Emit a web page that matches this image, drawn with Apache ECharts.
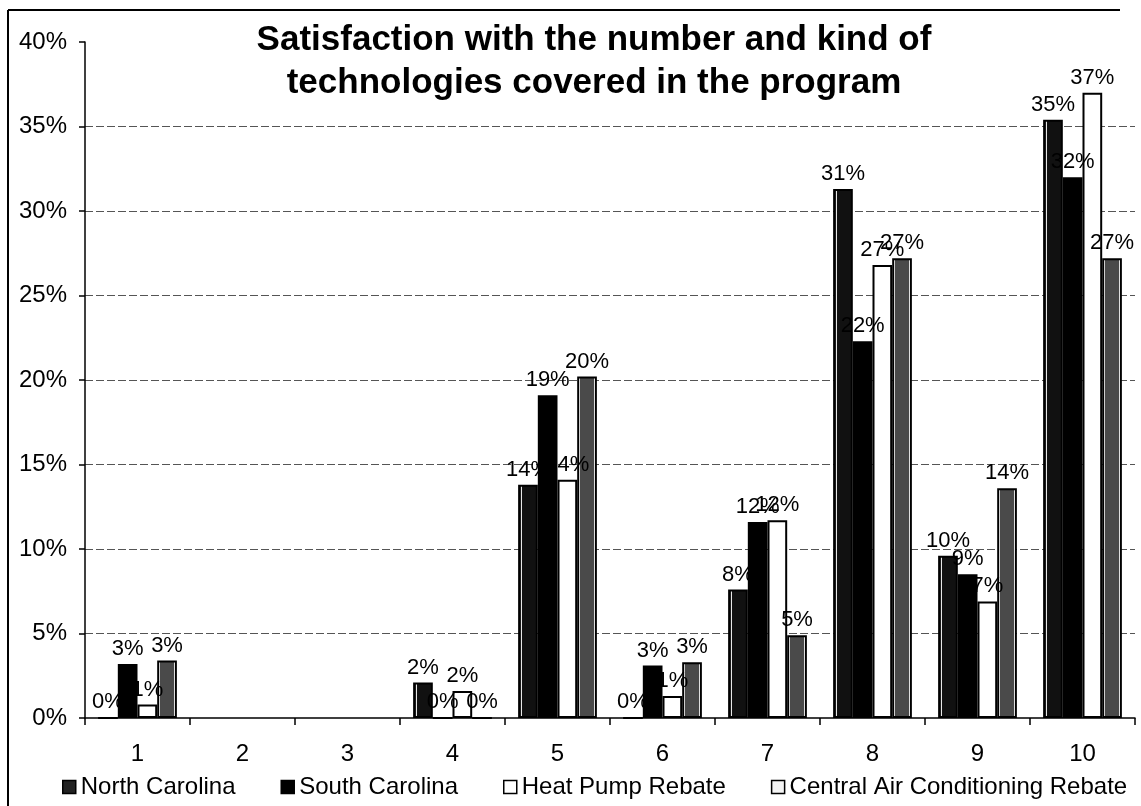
<!DOCTYPE html>
<html>
<head>
<meta charset="utf-8">
<script src="https://cdn.jsdelivr.net/npm/echarts@6/dist/echarts.min.js"></script>
<style>
  html, body { margin: 0; padding: 0; background: #fff; }
  #chart { width: 1141px; height: 806px; }
</style>
</head>
<body>
<div id="chart"></div>
<script>
// Rating scale 1..10 and share of respondents per program (percent)
const categories = ['1', '2', '3', '4', '5', '6', '7', '8', '9', '10'];
const seriesNames = ['North Carolina', 'South Carolina', 'Heat Pump Rebate', 'Central Air Conditioning Rebate'];
const northCarolina = [0, null, null, 2.1, 13.8, 0, 7.6, 31.3, 9.6, 35.4];
const southCarolina = [3.2, null, null, 0, 19.1, 3.1, 11.6, 22.3, 8.5, 32.0];
const heatPump = [0.8, null, null, 1.6, 14.1, 1.3, 11.7, 26.8, 6.9, 37.0];
const centralAir = [3.4, null, null, 0, 20.2, 3.3, 4.9, 27.2, 13.6, 27.2];
const titleLines = ['Satisfaction with the number and kind of', 'technologies covered in the program'];

const FONT = '"Liberation Sans", Arial, sans-serif';

// Fills: dark bar with a thin light inner stripe, solid black, white, and boxed grey
const ncFill = new echarts.graphic.LinearGradient(0, 0, 1, 0, [
  { offset: 0, color: '#111' }, { offset: 0.12, color: '#111' },
  { offset: 0.13, color: '#e8e8e8' }, { offset: 0.19, color: '#e8e8e8' },
  { offset: 0.2, color: '#111' }, { offset: 1, color: '#111' }
]);
const cacFill = new echarts.graphic.LinearGradient(0, 0, 1, 0, [
  { offset: 0, color: '#fff' }, { offset: 0.14, color: '#fff' },
  { offset: 0.15, color: '#4a4a4a' }, { offset: 0.85, color: '#4a4a4a' },
  { offset: 0.86, color: '#fff' }, { offset: 1, color: '#fff' }
]);
const fills = [ncFill, '#000', '#fff', cacFill];
// legend swatches: boxed dark, solid black, white box, white box
const legendFills = ['#222', '#000', '#fff', '#f4f4f4'];
const valuesBySeries = [northCarolina, southCarolina, heatPump, centralAir];

const chart = echarts.init(document.getElementById('chart'), null, { renderer: 'canvas' });

const series = seriesNames.map((name, i) => ({
  name,
  type: 'bar',
  data: valuesBySeries[i],
  barGap: '0%',
  barCategoryGap: '25%',
  itemStyle: { color: fills[i], borderColor: '#000', borderWidth: 2 },
  label: {
    show: true,
    position: 'top',
    distance: 4,
    color: '#000',
    fontFamily: FONT,
    fontSize: 22,
    formatter: p => (p.value == null ? '' : Math.round(p.value) + '%')
  }
}));

chart.setOption({
  animation: false,
  backgroundColor: '#fff',
  title: {
    text: titleLines.join('\n'),
    left: 594,
    textAlign: 'center',
    top: 19,
    padding: 0,
    textStyle: { fontFamily: FONT, fontSize: 35, fontWeight: 'bold', color: '#000', lineHeight: 43 }
  },
  legend: {
    data: seriesNames.map((name, i) => ({
      name,
      itemStyle: { color: legendFills[i], borderColor: '#000', borderWidth: 1.5 }
    })),
    left: 62,
    top: 775,
    padding: 0,
    itemGap: 45,
    itemWidth: 13,
    itemHeight: 13,
    icon: 'rect',
    textStyle: { fontFamily: FONT, fontSize: 24, color: '#000' }
  },
  grid: { left: 85, right: 6, top: 42, bottom: 88, containLabel: false },
  xAxis: {
    type: 'category',
    data: categories,
    axisLine: { lineStyle: { color: '#000', width: 1.5 } },
    axisTick: { show: true, length: 7, lineStyle: { color: '#000', width: 1.5 } },
    axisLabel: { margin: 24, color: '#000', fontFamily: FONT, fontSize: 24 }
  },
  yAxis: {
    type: 'value',
    min: 0,
    max: 40,
    interval: 5,
    axisLine: { show: true, lineStyle: { color: '#000', width: 1.5 } },
    axisTick: { show: true, length: 6, lineStyle: { color: '#000', width: 1.5 } },
    axisLabel: { margin: 18, color: '#000', fontFamily: FONT, fontSize: 24, formatter: '{value}%' },
    splitLine: {
      show: true,
      showMaxLine: false,
      showMinLine: false,
      lineStyle: { color: '#555', width: 1, type: [8, 3] }
    }
  },
  graphic: [
    // outer frame along the top and left edges
    { type: 'line', shape: { x1: 8, y1: 10, x2: 1120, y2: 10 }, style: { stroke: '#000', lineWidth: 2 }, z: 100 },
    { type: 'line', shape: { x1: 8, y1: 10, x2: 8, y2: 806 }, style: { stroke: '#000', lineWidth: 2 }, z: 100 }
  ],
  series
});
</script>
</body>
</html>
